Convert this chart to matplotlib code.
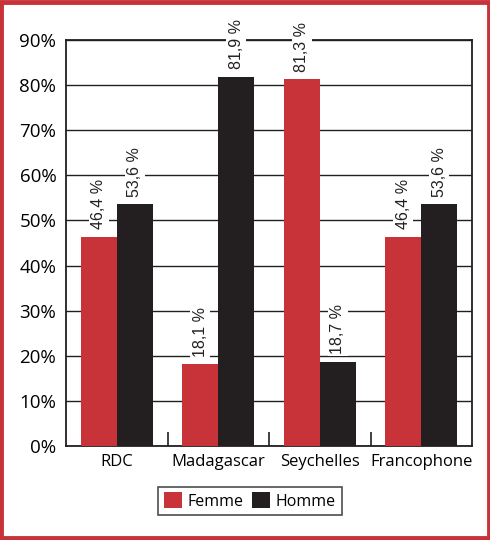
import numpy as np
import matplotlib.pyplot as plt
from matplotlib.patches import Rectangle

plt.rcParams['font.family'] = ['Open Sans', 'DejaVu Sans']

categories = ["RDC", "Madagascar", "Seychelles", "Francophone"]
femme = [46.4, 18.1, 81.3, 46.4]
homme = [53.6, 81.9, 18.7, 53.6]
yticks = [0, 10, 20, 30, 40, 50, 60, 70, 80, 90]

red = "#C8333A"
black = "#231F20"

fig = plt.figure(figsize=(4.9, 5.4), dpi=100)
ax = fig.add_axes([66 / 490, 1 - 446 / 540, 406 / 490, 406 / 540])

x = np.arange(len(categories))
w = 0.355
b1 = ax.bar(x - w / 2, femme, w, color=red, zorder=3, label="Femme")
b2 = ax.bar(x + w / 2, homme, w, color=black, zorder=3, label="Homme")

def fmt(v):
    return f"{v:.1f} %".replace(".", ",")

for bars, vals in ((b1, femme), (b2, homme)):
    for rect, v in zip(bars, vals):
        ax.annotate(fmt(v), (rect.get_x() + rect.get_width() / 2, v),
                    xytext=(0, 5.5), textcoords="offset points",
                    rotation=90, ha="center", va="bottom", fontsize=11.5,
                    family=["Liberation Sans", "DejaVu Sans"],
                    color="#231F20", zorder=4,
                    bbox=dict(boxstyle="square,pad=0.15", fc="white", ec="none"))

ax.set_xlim(-0.5, 3.5)
ax.set_ylim(0, 90)
ax.set_yticks(yticks)
ax.set_yticklabels([f"{t}%" for t in yticks], fontsize=13.5)
ax.yaxis.grid(True, color="#231F20", linewidth=1.0, zorder=0)
ax.tick_params(axis="y", length=0, pad=7)

ax.set_xticks(x)
ax.set_xticklabels(categories, fontsize=12)
ax.tick_params(axis="x", length=0, pad=6)
ax.set_xticks([0.5, 1.5, 2.5], minor=True)
ax.tick_params(axis="x", which="minor", direction="in", length=10, width=1.2, color="#231F20")

for s in ax.spines.values():
    s.set_color("#231F20")
    s.set_linewidth(1.3)

leg = fig.legend(handles=[b1, b2], labels=["Femme", "Homme"], loc="center",
                 bbox_to_anchor=(250 / 490, 1 - 501 / 540), ncol=2, fontsize=11.5,
                 frameon=True, fancybox=False, edgecolor="#231F20",
                 handlelength=1.1, handleheight=1.1, handletextpad=0.4,
                 columnspacing=0.5, borderpad=0.35, borderaxespad=0)
leg.get_frame().set_linewidth(1.2)

fig.patches.append(Rectangle((0.003, 0.003), 0.994, 0.994, transform=fig.transFigure,
                             fill=False, edgecolor=red, linewidth=3.5))

fig.savefig("out.png", dpi=100)
